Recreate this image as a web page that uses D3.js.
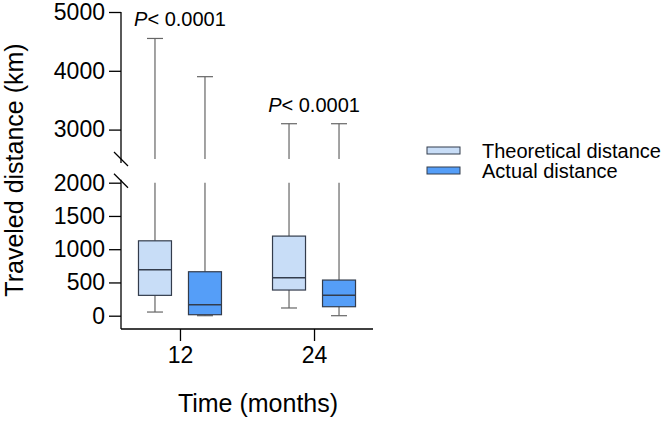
<!DOCTYPE html>
<html>
<head>
<meta charset="utf-8">
<script src="https://cdn.jsdelivr.net/npm/d3@7"></script>
<style>
  html, body { margin: 0; padding: 0; background: #fff; }
  svg { display: block; font-family: "Liberation Sans", Arial, sans-serif; }
</style>
</head>
<body>
<svg id="chart" width="662" height="421"></svg>
<script>
// ---- data ----
const groups = ["12", "24"];
const series = ["Theoretical distance", "Actual distance"];
// per group, per series: [min, q1, median, q3, max]
const theoretical = [
  [55, 306, 691, 1126, 4550],
  [116, 386, 571, 1197, 3100]
];
const actual = [
  [0, 15, 165, 661, 3900],
  [0, 135, 306, 536, 3100]
];
const pLabels = ["< 0.0001", "< 0.0001"];
const pLabelValues = [4760, 3300];
const lowerTicks = [0, 500, 1000, 1500, 2000];
const upperTicks = [3000, 4000, 5000];
const fills = ["#c8ddf7", "#559ef8"];

// ---- layout ----
const svg = d3.select("#chart");
const axisX0 = 121, axisX1 = 373, axisY = 329;
const breakLow = 2000, breakHigh = 2500;

const x = d3.scalePoint().domain(groups).range([axisX0, axisX1]).padding(0.44);
const xs = d3.scalePoint().domain(series).range([-25, 25]);
const boxW = 33, capW = 16;

const yLow = d3.scaleLinear().domain([0, breakLow]).range([315.7, 182.7]);
const yUp = d3.scaleLinear().domain([breakHigh, 5000]).range([159, 12]);

const strokeBox = "#333c4c";
const strokeWhisk = "#666";

// ---- axes ----
const fmt = d3.format("d");
const gLow = svg.append("g").attr("transform", `translate(${axisX0},0)`)
  .call(d3.axisLeft(yLow).tickValues(lowerTicks).tickFormat(fmt).tickSize(12).tickPadding(4).tickSizeOuter(0));
const gUp = svg.append("g").attr("transform", `translate(${axisX0},0)`)
  .call(d3.axisLeft(yUp).tickValues(upperTicks).tickFormat(fmt).tickSize(12).tickPadding(4).tickSizeOuter(0));
[gLow, gUp].forEach(g => {
  g.select(".domain").remove();
  g.selectAll(".tick line").attr("stroke", "#000").attr("stroke-width", 1.3);
  g.selectAll(".tick text").attr("font-size", 23).attr("fill", "#000")
    .attr("font-family", "Liberation Sans, Arial, sans-serif");
});
// axis lines
svg.append("line").attr("x1", axisX0).attr("x2", axisX0)
  .attr("y1", yUp(5000)).attr("y2", yUp(breakHigh) + 4)
  .attr("stroke", "#000").attr("stroke-width", 1.3);
svg.append("line").attr("x1", axisX0).attr("x2", axisX0)
  .attr("y1", yLow(breakLow) - 3).attr("y2", axisY)
  .attr("stroke", "#000").attr("stroke-width", 1.3);
// break marks
[yUp(breakHigh) + 0, yLow(breakLow) - 2].forEach(yc => {
  svg.append("line").attr("x1", axisX0 - 7).attr("y1", yc - 7)
    .attr("x2", axisX0 + 7).attr("y2", yc + 7)
    .attr("stroke", "#000").attr("stroke-width", 1.3);
});

// x axis
const gx = svg.append("g").attr("transform", `translate(0,${axisY})`)
  .call(d3.axisBottom(x).tickSize(12).tickPadding(6).tickSizeOuter(0));
gx.select(".domain").attr("d", `M${axisX0},0H${axisX1}`).attr("stroke", "#000").attr("stroke-width", 1.3);
gx.selectAll(".tick line").attr("stroke", "#000").attr("stroke-width", 1.3);
gx.selectAll(".tick text").attr("font-size", 23).attr("fill", "#000")
  .attr("font-family", "Liberation Sans, Arial, sans-serif");

// ---- boxes ----
function segLine(xc, v0, v1) {
  const parts = [];
  const a = Math.min(v0, breakLow), b = Math.min(v1, breakLow);
  if (b > a) parts.push([yLow(a), yLow(b)]);
  if (v1 > breakHigh) parts.push([yUp(Math.max(v0, breakHigh)), yUp(v1)]);
  parts.forEach(p => svg.append("line").attr("x1", xc).attr("x2", xc)
    .attr("y1", p[0]).attr("y2", p[1]).attr("stroke", strokeWhisk).attr("stroke-width", 1.2));
}
function yOf(v) { return v > breakLow ? yUp(v) : yLow(v); }

const allData = [theoretical, actual];
groups.forEach((g, gi) => {
  series.forEach((s, si) => {
    const [mn, q1, md, q3, mx] = allData[si][gi];
    const xc = x(g) + xs(s);
    segLine(xc, q3, mx);
    segLine(xc, mn, q1);
    [mn, mx].forEach(v => svg.append("line")
      .attr("x1", xc - capW / 2).attr("x2", xc + capW / 2)
      .attr("y1", yOf(v)).attr("y2", yOf(v))
      .attr("stroke", strokeWhisk).attr("stroke-width", 1.2));
    svg.append("rect").attr("x", xc - boxW / 2).attr("width", boxW)
      .attr("y", yLow(q3)).attr("height", yLow(q1) - yLow(q3))
      .attr("fill", fills[si]).attr("stroke", strokeBox).attr("stroke-width", 1.2);
    svg.append("line").attr("x1", xc - boxW / 2).attr("x2", xc + boxW / 2)
      .attr("y1", yLow(md)).attr("y2", yLow(md))
      .attr("stroke", strokeBox).attr("stroke-width", 1.5);
  });
});

// ---- P labels ----
groups.forEach((g, gi) => {
  const t = svg.append("text").attr("x", x(g)).attr("y", yUp(pLabelValues[gi]))
    .attr("text-anchor", "middle").attr("font-size", 20).attr("fill", "#000");
  t.append("tspan").attr("font-style", "italic").text("P");
  t.append("tspan").text(pLabels[gi]);
});

// ---- titles ----
svg.append("text").attr("transform", "translate(23,170) rotate(-90)")
  .attr("text-anchor", "middle").attr("font-size", 25).attr("fill", "#000")
  .text("Traveled distance (km)");
svg.append("text").attr("x", 258).attr("y", 412)
  .attr("text-anchor", "middle").attr("font-size", 25).attr("fill", "#000")
  .text("Time (months)");

// ---- legend ----
const lg = svg.append("g").attr("transform", "translate(427,147)");
series.forEach((s, i) => {
  lg.append("rect").attr("x", 0).attr("y", i * 20).attr("width", 33).attr("height", 7)
    .attr("fill", fills[i]).attr("stroke", strokeBox).attr("stroke-width", 1);
  lg.append("text").attr("x", 55).attr("y", i * 20 + 11).attr("font-size", 20)
    .attr("fill", "#000").text(s);
});
</script>
</body>
</html>
